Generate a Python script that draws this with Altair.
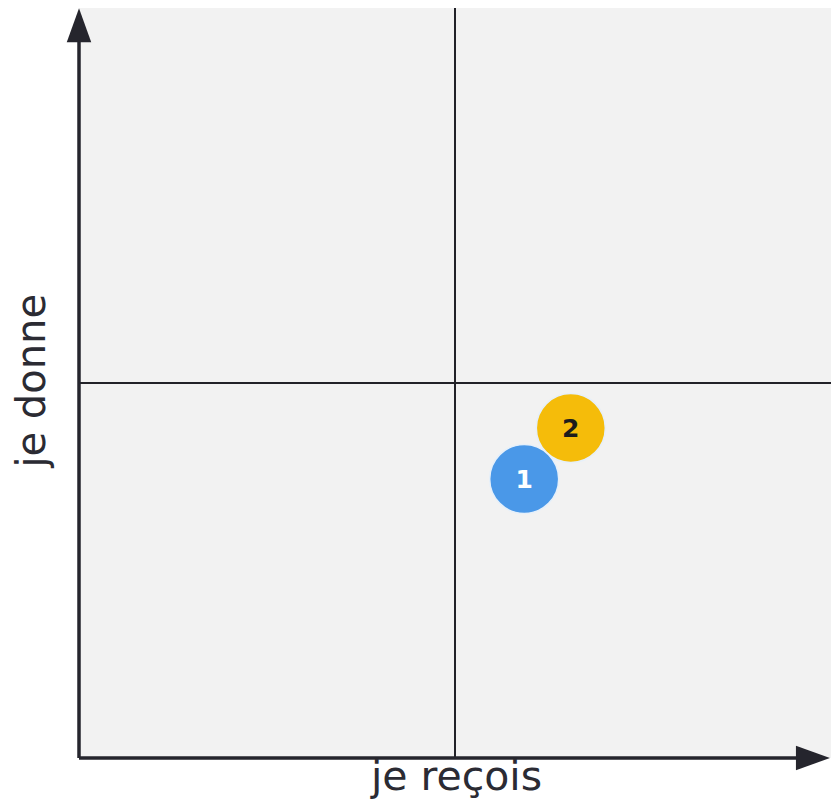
import altair as alt
import pandas as pd

# --- data ---
point_labels = ["2", "1"]
point_x = [65.4, 59.2]
point_y = [44.0, 37.2]
point_colors = ["#f5bc0a", "#4a98e8"]
text_colors = ["#1c1c1c", "#ffffff"]

quad_x = [50]
quad_y = [50]

x_title = "je reçois"
y_title = "je donne"

AX = "#25252d"
FONT = "DejaVu Sans"

xs = alt.Scale(domain=[0, 100], nice=False, zero=False)
ys = alt.Scale(domain=[0, 100], nice=False, zero=False)


def X(f="x:Q"):
    return alt.X(f, scale=xs, axis=None)


def Y(f="y:Q"):
    return alt.Y(f, scale=ys, axis=None)


pts = pd.DataFrame({"label": point_labels, "x": point_x, "y": point_y,
                    "c": point_colors, "tc": text_colors})

# quadrant lines
vline = alt.Chart(pd.DataFrame({"x": quad_x})).mark_rule(color="#222228", strokeWidth=2).encode(x=X())
hline = alt.Chart(pd.DataFrame({"y": quad_y})).mark_rule(color="#222228", strokeWidth=2).encode(y=Y())

# axis lines
yaxis_line = alt.Chart(pd.DataFrame({"x": [0], "y": [0], "y2": [96]})).mark_rule(
    color=AX, strokeWidth=3.5).encode(x=X(), y=Y(), y2="y2:Q")
xaxis_line = alt.Chart(pd.DataFrame({"x": [0], "x2": [96], "y": [0]})).mark_rule(
    color=AX, strokeWidth=3.5).encode(x=X(), x2="x2:Q", y=Y())

# arrow heads
up_arrow = alt.Chart(pd.DataFrame({"x": [0], "y": [97.7]})).mark_point(
    shape="M0,-1L0.72,1L-0.72,1Z", filled=True, size=1156, color=AX, opacity=1).encode(x=X(), y=Y())
right_arrow = alt.Chart(pd.DataFrame({"x": [97.6], "y": [0]})).mark_point(
    shape="M1,0L-1,-0.72L-1,0.72Z", filled=True, size=1156, color=AX, opacity=1).encode(x=X(), y=Y())

circles = alt.Chart(pts).mark_circle(size=4761, opacity=1, stroke="#e6f0fa", strokeWidth=1.5).encode(
    x=X(), y=Y(), color=alt.Color("c:N", scale=None))

labels = alt.Chart(pts).mark_text(font=FONT, fontSize=25, fontWeight="bold", baseline="middle",
                                  align="center", dy=1).encode(
    x=X(), y=Y(), text="label:N", color=alt.Color("tc:N", scale=None))

# axis titles
xt = alt.Chart(pd.DataFrame({"t": [x_title], "x": [50.2], "y": [-4.2]})).mark_text(
    font=FONT, fontSize=41, color="#2b2b33", baseline="alphabetic", align="center").encode(
    x=X(), y=Y(), text="t:N")
yt = alt.Chart(pd.DataFrame({"t": [y_title], "x": [-4.5], "y": [50.3]})).mark_text(
    font=FONT, fontSize=40, color="#2b2b33", baseline="alphabetic", align="center", angle=270).encode(
    x=X(), y=Y(), text="t:N")

chart = alt.layer(vline, hline, yaxis_line, xaxis_line, up_arrow, right_arrow, circles, labels,
                  xt, yt).properties(
    width=752, height=750,
    autosize=alt.AutoSizeParams(type="none"),
    padding={"left": 71, "top": 0, "right": 0, "bottom": 43},
).configure_view(fill="#f2f2f2", stroke=None)

chart.save("out.html", embed_options={"renderer": "svg", "actions": False})
